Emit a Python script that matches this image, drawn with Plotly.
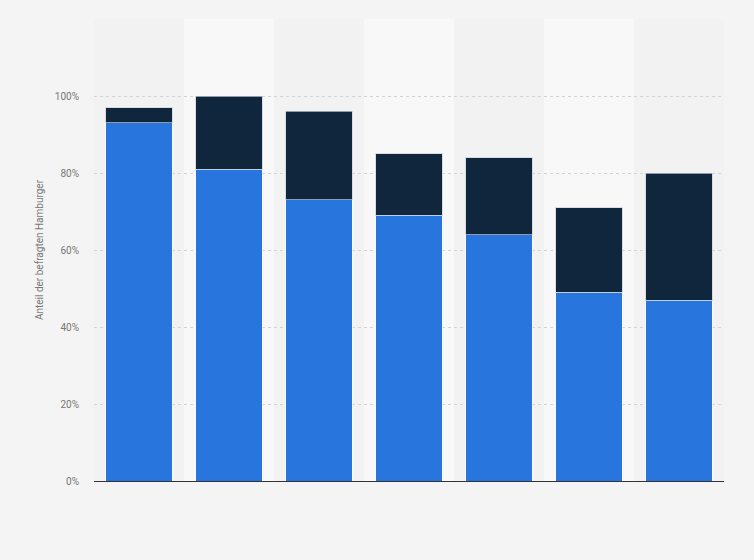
import plotly.graph_objects as go

# Kategorien (im Original ohne sichtbare Beschriftung)
categories = ["A", "B", "C", "D", "E", "F", "G"]
# untere Serie (blau) und obere Serie (dunkel), Angaben in %
blue_vals = [93, 81, 73, 69, 64, 49, 47]
dark_vals = [4, 19, 23, 16, 20, 22, 33]
tick_vals = [0, 20, 40, 60, 80, 100, 120]
tick_text = ["0%", "20%", "40%", "60%", "80%", "100%", ""]

C_BLUE = "#2876dd"
C_DARK = "#10263d"

fig = go.Figure()
fig.add_trace(go.Bar(
    x=categories, y=blue_vals, marker_color=C_BLUE,
    marker_line=dict(color="rgba(255,255,255,0.6)", width=1),
    showlegend=False, hoverinfo="y",
))
fig.add_trace(go.Bar(
    x=categories, y=dark_vals, marker_color=C_DARK,
    marker_line=dict(color="rgba(200,210,220,0.7)", width=1),
    showlegend=False, hoverinfo="y",
))

# hellere Hintergrundstreifen hinter jeder zweiten Kategorie
for i, c in enumerate(categories):
    if i % 2 == 1:
        fig.add_shape(type="rect", xref="x", yref="paper",
                      x0=i - 0.5, x1=i + 0.5, y0=0, y1=1,
                      fillcolor="#f8f8f8", line_width=0, layer="below")

fig.update_layout(
    barmode="stack",
    bargap=0.26,
    width=754, height=560,
    paper_bgcolor="#f4f4f4",
    plot_bgcolor="#f2f2f2",
    margin=dict(l=94, r=30, t=19, b=79),
    font=dict(family="Roboto, Arial, sans-serif", color="#777777", size=10),
)
fig.update_xaxes(showticklabels=False, showgrid=False, ticks="",
                 showline=False, zeroline=False)
fig.update_yaxes(
    range=[0, 120], tickvals=tick_vals, ticktext=tick_text,
    showgrid=True, gridcolor="#d4d4d4", griddash="dot", gridwidth=1,
    zeroline=True, zerolinecolor="#333333", zerolinewidth=1.3,
    ticks="", ticklabelstandoff=14,
    title=dict(text="Anteil der befragten Hamburger",
               font=dict(size=10, color="#777777"), standoff=9),
)

# Seitenrand des Browsers entfernen, damit das Bild bei 0,0 beginnt
fig.write_html("out.html", config={"displayModeBar": False},
               post_script="document.body.style.margin='0';")
